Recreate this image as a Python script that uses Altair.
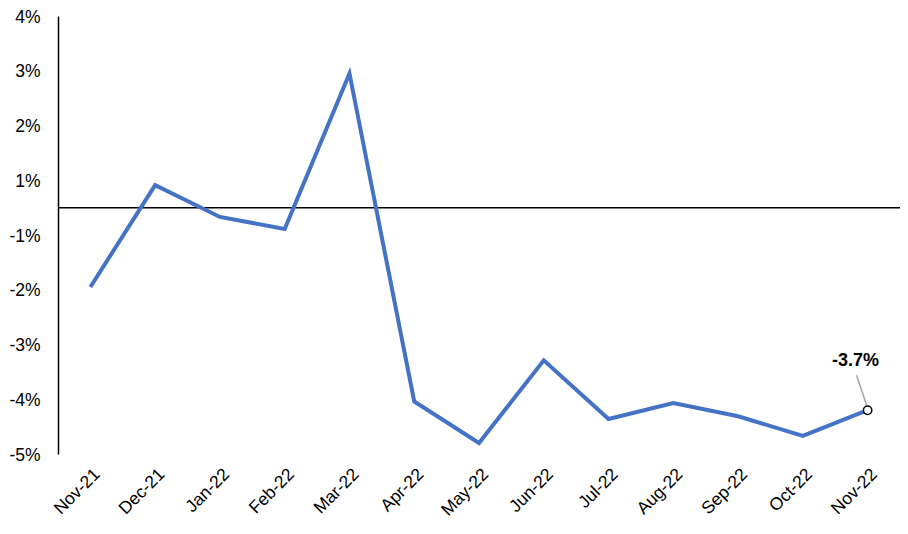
import altair as alt
import pandas as pd

months = ["Nov-21", "Dec-21", "Jan-22", "Feb-22", "Mar-22", "Apr-22", "May-22",
          "Jun-22", "Jul-22", "Aug-22", "Sep-22", "Oct-22", "Nov-22"]
values = [-1.45, 0.41, -0.17, -0.39, 2.45, -3.54, -4.30, -2.79, -3.86, -3.57, -3.81, -4.17, -3.70]
tick_values = [-4.5, -3.5, -2.5, -1.5, -0.5, 0.5, 1.5, 2.5, 3.5]
tick_labels = ["-5%", "-4%", "-3%", "-2%", "-1%", "1%", "2%", "3%", "4%"]
last_label = "-3.7%"

df = pd.DataFrame({"month": months, "value": values})
last = pd.DataFrame({"month": [months[-1]], "value": [values[-1]], "label": [last_label]})

label_expr = "[" + ",".join("'" + t + "'" for t in tick_labels) + "][round(datum.value + 4.5)]"

FONT = "Liberation Sans"

x_scale = alt.Scale(type="point", padding=0.5)
x_enc = alt.X("month:N", sort=months, title=None, scale=x_scale,
              axis=alt.Axis(domain=False, ticks=False, grid=False, labelAngle=-45, labelFontSize=17.5,
                            labelFont=FONT, labelColor="black", labelPadding=11, labelAlign="right",
                            labelBaseline="top"))
y_scale = alt.Scale(domain=[-4.5, 3.5], nice=False, zero=False)
y_enc = alt.Y("value:Q", title=None, scale=y_scale,
              axis=alt.Axis(values=tick_values, labelExpr=label_expr, grid=False, ticks=False,
                            domain=True, domainColor="black", domainWidth=1.5, labelOffset=1,
                            labelFontSize=17.5, labelFont=FONT, labelColor="black", labelPadding=18))

xs = alt.X("month:N", sort=months, scale=x_scale, title=None)
ys = alt.Y("value:Q", scale=y_scale, title=None)

line = alt.Chart(df).mark_line(color="#4472C4", strokeWidth=4, strokeJoin="miter").encode(x=x_enc, y=y_enc)

zero = alt.Chart(pd.DataFrame({"z": [0]})).mark_rule(color="black", strokeWidth=1.5).encode(
    y=alt.Y("z:Q", scale=y_scale, title=None))

leader = alt.Chart(last).mark_rule(color="#A6A6A6", strokeWidth=1.5,
                                   xOffset=-11, x2Offset=-1, yOffset=-35, y2Offset=-5).encode(
    x=xs, x2="month:N", y=ys, y2="value:Q")

marker = alt.Chart(last).mark_point(shape="circle", size=70, filled=True, fill="white",
                                    stroke="black", strokeWidth=1.5, opacity=1).encode(x=xs, y=ys)

text = alt.Chart(last).mark_text(font=FONT, fontSize=18, fontWeight="bold", color="black",
                                 dx=-12, dy=-44, align="center", baseline="alphabetic").encode(
    x=xs, y=ys, text="label:N")

chart = alt.layer(zero, line, leader, marker, text).properties(
    width=842, height=438,
    background="white",
    autosize=alt.AutoSizeParams(type="none"),
    padding={"left": 50, "top": 8, "right": 0, "bottom": 72},
).configure_view(stroke=None, strokeWidth=0).configure_axis(grid=False)

chart.save("out.html", embed_options={"renderer": "svg", "actions": False})
